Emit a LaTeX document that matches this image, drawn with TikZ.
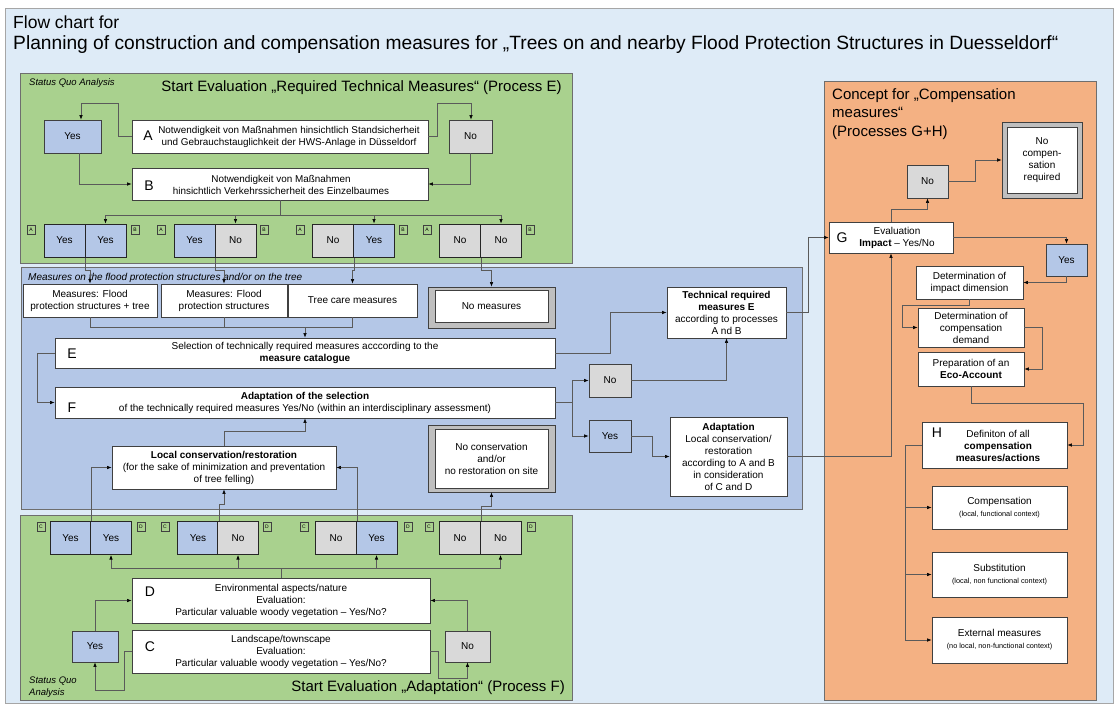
\documentclass[tikz,border=0pt]{standalone}
\usepackage{fontspec}
\setmainfont{Liberation Sans}
\usetikzlibrary{arrows.meta,calc}
\definecolor{bgc}{RGB}{222,235,247}
\definecolor{greenc}{RGB}{169,209,142}
\definecolor{bluec}{RGB}{180,199,231}
\definecolor{orangec}{RGB}{244,177,131}
\definecolor{yesc}{RGB}{180,199,231}
\definecolor{noc}{RGB}{217,217,217}
\definecolor{bord}{RGB}{64,64,64}
\definecolor{linec}{RGB}{90,90,90}
\definecolor{dblc}{RGB}{191,191,191}
\definecolor{panelc}{RGB}{110,110,110}
\newcommand\fs[2]{\fontsize{#1}{#2}\selectfont}
\begin{document}
\begin{tikzpicture}[x=1pt,y=-1pt,
  panel/.style={draw=panelc, line width=0.9pt},
  box/.style={draw=bord, fill=white, line width=0.8pt, inner sep=1pt, align=center, font=\fs{10}{12}},
  yesb/.style={box, fill=yesc},
  nob/.style={box, fill=noc},
  pairb/.style={draw=black!85, line width=1pt, align=center, font=\fs{10}{12}, minimum width=41pt, minimum height=33pt, inner sep=0pt},
  lab/.style={draw=bord, fill=greenc, line width=0.6pt, minimum width=8pt, minimum height=9pt, inner sep=0pt, font=\fs{5}{6}},
  txt/.style={inner sep=0pt, align=center, font=\fs{10}{12}},
  bigl/.style={inner sep=0pt, font=\fs{14}{16}},
  ttl/.style={inner sep=0pt, anchor=west, font=\fs{15}{18.5}, align=left},
  itl/.style={inner sep=0pt, anchor=west, font=\fs{9.5}{12}\itshape, align=left},
  conn/.style={draw=linec, line width=0.6pt},
  arr/.style={conn, -{Latex[length=4.5pt,width=3.5pt,color=black]}}
]
\useasboundingbox (0,0) rectangle (1118,704);
\fill[white] (0,0) rectangle (1118,704);
\draw[fill=bgc, draw=gray!70, line width=0.8pt] (5,8) rectangle (1113,703);

% titles
\node[inner sep=0pt, anchor=west, font=\fs{17.5}{21}] (t1) at (13,22) {Flow chart for};
\node[inner sep=0pt, anchor=west, font=\fs{19.2}{23}] (t2) at (13,45) {Planning of construction and compensation measures for „Trees on and nearby Flood Protection Structures in Duesseldorf“};

% panels
\draw[panel, fill=greenc] (20,73) rectangle (572,263);
\draw[panel, fill=bluec] (21,267) rectangle (802,509);
\draw[panel, fill=greenc] (20,515) rectangle (572,700);
\draw[panel, fill=orangec] (824,81) rectangle (1096,700);

% ---------- top green panel ----------
\node[itl] (sq1) at (29,83) {Status Quo Analysis};
\node[inner sep=0pt, font=\fs{15}{18}] (gt1) at (361.5,88) {Start Evaluation „Required Technical Measures“ (Process E)};

\node[yesb, minimum width=57pt, minimum height=33pt] (yesA) at (72.5,136.5) {Yes};
\node[box, minimum width=296pt, minimum height=33pt] (A) at (280,136.5) {};
\node[txt, font=\fs{9.9}{11.5}] (Atxt) at (289,137) {Notwendigkeit von Maßnahmen  hinsichtlich  Standsicherheit\\und Gebrauchstauglichkeit  der HWS-Anlage in Düsseldorf};
\node[bigl] (Alet) at (148,136) {A};
\node[nob, minimum width=43pt, minimum height=33pt] (noA) at (470.5,136.5) {No};

\node[box, minimum width=296pt, minimum height=32pt] (B) at (280,184) {};
\node[txt, font=\fs{9.9}{12}] (Btxt) at (281,185) {Notwendigkeit von Maßnahmen\\hinsichtlich  Verkehrssicherheit  des Einzelbaumes};
\node[bigl] (Blet) at (149,186) {B};

% pairs A/B
\node[pairb, fill=yesc] (p1l) at (64.5,240.5) {Yes};
\node[pairb, fill=yesc] (p1r) at (105.5,240.5) {Yes};
\node[pairb, fill=yesc] (p2l) at (194.5,240.5) {Yes};
\node[pairb, fill=noc]  (p2r) at (235.5,240.5) {No};
\node[pairb, fill=noc]  (p3l) at (333,240.5) {No};
\node[pairb, fill=yesc] (p3r) at (374,240.5) {Yes};
\node[pairb, fill=noc]  (p4l) at (460,240.5) {No};
\node[pairb, fill=noc]  (p4r) at (501,240.5) {No};
\node[lab] (p1a) at (31,230) {A};  \node[lab] (p1b) at (135,230) {B};
\node[lab] (p2a) at (161,230) {A}; \node[lab] (p2b) at (264,230) {B};
\node[lab] (p3a) at (300,230) {A}; \node[lab] (p3b) at (403,230) {B};
\node[lab] (p4a) at (427,230) {A}; \node[lab] (p4b) at (530,230) {B};

% ---------- blue panel ----------
\node[itl, font=\fs{10}{12}\itshape] (bl) at (28,278) {Measures on the flood protection structures and/or on the tree};
\node[box, minimum width=134pt, minimum height=33pt] (M1) at (90,300.5) {Measures: Flood\\protection structures  + tree};
\node[box, minimum width=126pt, minimum height=33pt] (M2) at (224,300.5) {Measures: Flood\\protection structures};
\node[box, minimum width=129pt, minimum height=33pt] (M3) at (352.5,300.5) {Tree care measures};
\node[draw=bord, fill=dblc, line width=0.8pt, minimum width=127pt, minimum height=41pt, inner sep=0pt] (NoMeas) at (491.5,307.5) {};
\node[box, minimum width=113pt, minimum height=32pt] (NoMeasIn) at (491.5,306.5) {No measures};

\node[box, minimum width=500pt, minimum height=30pt] (E) at (305,353) {Selection of technically  required  measures  acccording to the\\\textbf{measure catalogue}};
\node[bigl] (Elet) at (72,354) {E};
\node[box, minimum width=500pt, minimum height=31pt] (F) at (305,402.5) {\textbf{Adaptation  of the selection}\\of the technically  required  measures  Yes/No (within  an interdisciplinary  assessment)};
\node[bigl] (Flet) at (72,408) {F};

\node[box, minimum width=119pt, minimum height=51pt] (TRM) at (726.5,312.5) {\textbf{Technical required}\\\textbf{measures  E}\\according to processes\\A nd B};
\node[nob, minimum width=42pt, minimum height=33pt] (noF) at (610,380.5) {No};
\node[yesb, minimum width=42pt, minimum height=32pt] (yesF) at (610,436) {Yes};
\node[box, minimum width=117pt, minimum height=79pt] (Adapt) at (728.5,456.5) {\textbf{Adaptation}\\Local conservation/\\restoration\\according to A and B\\in consideration\\of C and D};

\node[box, minimum width=224pt, minimum height=43pt] (LCR) at (224,467.5) {\textbf{Local conservation/restoration}\\(for the sake of minimization and preventation\\of tree felling)};
\node[draw=bord, fill=dblc, line width=0.8pt, minimum width=127pt, minimum height=67pt, inner sep=0pt] (NoCons) at (491.5,458.5) {};
\node[box, minimum width=113pt, minimum height=59pt] (NoConsIn) at (491.5,458.5) {No conservation\\and/or\\no restoration on site};

% ---------- bottom green panel ----------
\node[pairb, fill=yesc] (q1l) at (70.5,538) {Yes};
\node[pairb, fill=yesc] (q1r) at (111,538) {Yes};
\node[pairb, fill=yesc] (q2l) at (198,538) {Yes};
\node[pairb, fill=noc]  (q2r) at (238,538) {No};
\node[pairb, fill=noc]  (q3l) at (336,538) {No};
\node[pairb, fill=yesc] (q3r) at (376.5,538) {Yes};
\node[pairb, fill=noc]  (q4l) at (460,538) {No};
\node[pairb, fill=noc]  (q4r) at (500.5,538) {No};
\node[lab] (q1c) at (41,527) {C};  \node[lab] (q1d) at (141,527) {D};
\node[lab] (q2c) at (165,527) {C}; \node[lab] (q2d) at (267,527) {D};
\node[lab] (q3c) at (304,527) {C}; \node[lab] (q3d) at (408,527) {D};
\node[lab] (q4c) at (429,527) {C}; \node[lab] (q4d) at (531,527) {D};

\node[box, minimum width=298pt, minimum height=45pt] (D) at (281,600.5) {Environmental aspects/nature\\Evaluation:\\Particular valuable  woody vegetation – Yes/No?};
\node[bigl] (Dlet) at (150,592) {D};
\node[box, minimum width=298pt, minimum height=43pt] (C) at (281,651.5) {Landscape/townscape\\Evaluation:\\Particular valuable  woody vegetation – Yes/No?};
\node[bigl] (Clet) at (150,647) {C};
\node[yesb, minimum width=46pt, minimum height=31pt] (yesC) at (95,646.5) {Yes};
\node[nob, minimum width=45pt, minimum height=31pt] (noC) at (467.5,646.5) {No};
\node[itl] (sq2) at (29,687) {Status Quo\\Analysis};
\node[inner sep=0pt, anchor=east, font=\fs{15}{18}] (gt2) at (565,688) {Start Evaluation „Adaptation“ (Process F)};

% ---------- orange panel ----------
\node[ttl] (ot) at (832,114) {Concept for  „Compensation\\measures“\\(Processes G+H)};
\node[draw=bord, fill=dblc, line width=0.8pt, minimum width=80pt, minimum height=76pt, inner sep=0pt] (NCR) at (1042,160) {};
\node[box, minimum width=70pt, minimum height=66pt] (NCRin) at (1042,160) {No\\compen-\\sation\\required};
\node[nob, minimum width=41pt, minimum height=33pt] (noG) at (927.5,181.5) {No};
\node[box, minimum width=124pt, minimum height=31pt] (G) at (891,237.5) {};
\node[txt] (Gtxt) at (897,238) {Evaluation\\\textbf{Impact} – Yes/No};
\node[bigl] (Glet) at (842,238) {G};
\node[yesb, minimum width=41pt, minimum height=32pt] (yesG) at (1066.5,260) {Yes};
\node[box, minimum width=107pt, minimum height=33pt] (DI) at (969.5,282.5) {Determination of\\impact dimension};
\node[box, minimum width=106pt, minimum height=39pt] (DCD) at (971,327.5) {Determination of\\compensation\\demand};
\node[box, minimum width=106pt, minimum height=34pt] (Eco) at (971,369) {Preparation of an\\\textbf{Eco-Account}};
\node[box, minimum width=145pt, minimum height=46pt] (H) at (994.5,445) {};
\node[txt] (Htxt) at (998,446) {Definiton of all\\\textbf{compensation}\\\textbf{measures/actions}};
\node[bigl] (Hlet) at (937,433) {H};
\node[box, minimum width=135pt, minimum height=43pt] (Comp) at (999.5,507.5) {Compensation\\{\fs{7.3}{9}(local, functional  context)}};
\node[box, minimum width=135pt, minimum height=45pt] (Subst) at (999.5,574.5) {Substitution\\{\fs{7.3}{9}(local, non functional context)}};
\node[box, minimum width=135pt, minimum height=46pt] (Ext) at (999.5,640) {External measures\\{\fs{7.3}{9}(no local, non-functional context)}};

% ---------- connectors: top green ----------
\draw[arr] (A.west) -- ++(-13,0) |- (81,103) -- (81,103 |- yesA.north);
\draw[arr] (A.east) -- ++(9,0) |- (471,103) -- (471,103 |- noA.north);
\draw[arr] ([xshift=6.5pt]yesA.south) |- (B.west);
\draw[arr] (noA.south) |- (B.east);
\coordinate (jB) at (280,215);
\draw[conn] (B.south) -- (jB);
\draw[conn] (105.5,215) -- (501,215);
\draw[arr] (p1r.north |- jB) -- (p1r.north);
\draw[arr] (p2r.north |- jB) -- (p2r.north);
\draw[arr] (p3r.north |- jB) -- (p3r.north);
\draw[arr] (p4r.north |- jB) -- (p4r.north);

% pairs -> measures
\draw[arr] (p1l.south east) -- ++(0,13) -| (M1.north);
\draw[arr] (p2l.south east) -- ++(0,13) -| (M2.north);
\draw[arr] (p3l.south east) -- ++(0,13) -| (M3.north);
\draw[arr] (p4l.south east) -- ++(0,13) -| (NoMeas.north);

% ---------- blue panel connectors ----------
\coordinate (jE) at (305,327);
\draw[conn] (M1.south) -- ++(0,10) -| (M3.south);
\draw[conn] (M2.south) -- (M2.south |- jE);
\draw[arr] (jE) -- (E.north);
\draw[arr] (E.west) -- ++(-17,0) |- (F.west);
\draw[arr] (E.east) -- ++(55,0) |- (TRM.west);
\coordinate (jF) at (572,402.5);
\draw[conn] (F.east) -- (jF);
\draw[arr] (jF) |- (noF.west);
\draw[arr] (jF) |- (yesF.west);
\draw[arr] (noF.east) -| (TRM.south);
\draw[arr] (yesF.east) -- ++(21,0) |- (Adapt.west);
\draw[arr] (LCR.north) -- ++(0,-14) -| (F.south);
\draw[arr] (TRM.east) -- ++(22,0) |- (G.west);
\draw[arr] (Adapt.east) -| (G.south);

% ---------- bottom connectors ----------
\draw[arr] (q1l.north east) |- (LCR.west);
\draw[arr] (q2l.north east) -- ++(0,-17) -| (LCR.south);
\draw[arr] (q3l.north east) |- (LCR.east);
\draw[arr] (q4l.north east) -- ++(0,-15) -| (NoCons.south);
\coordinate (jD) at (281,568);
\draw[conn] (D.north) -- (jD);
\draw[conn] (111,568) -- (500.5,568);
\draw[arr] (q1r.south |- jD) -- (q1r.south);
\draw[arr] (q2r.south |- jD) -- (q2r.south);
\draw[arr] (q3r.south |- jD) -- (q3r.south);
\draw[arr] (q4r.south |- jD) -- (q4r.south);
\draw[arr] (C.west) -- ++(-7,0) |- (95,690) -- (yesC.south);
\draw[arr] (C.east) -- ++(8,0) |- (467.5,678) -- (noC.south);
\draw[arr] (yesC.north) |- (D.west);
\draw[arr] (noC.north) |- (D.east);

% ---------- orange connectors ----------
\draw[arr] (G.north) -- ++(0,-12) -| (noG.south);
\draw[arr] (noG.east) -- ++(27,0) |- (NCR.west);
\draw[arr] (G.east) -| (yesG.north);
\draw[arr] (yesG.south) |- (DI.east);
\draw[arr] (DI.south) -- ++(0,6) -| (902,327.5) -- (DCD.west);
\draw[arr] (DCD.east) -- ++(18,0) |- (Eco.east);
\draw[arr] (Eco.south) -- ++(0,17) -| (1083,445) -- (H.east);
\coordinate (jH) at (905,445);
\draw[conn] (H.west) -- (jH) -- (905,640);
\draw[arr] (jH |- Comp.west) -- (Comp.west);
\draw[arr] (jH |- Subst.west) -- (Subst.west);
\draw[arr] (jH |- Ext.west) -- (Ext.west);
\end{tikzpicture}
\end{document}
